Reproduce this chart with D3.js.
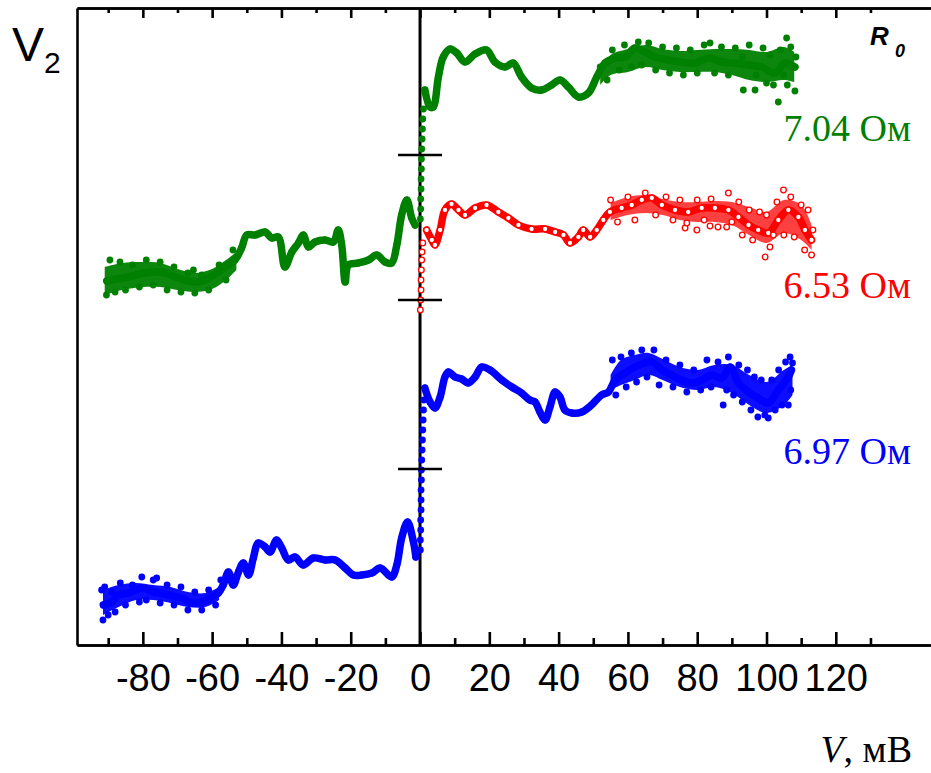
<!DOCTYPE html>
<html>

<head>
  <meta charset="utf-8">
  <title>V2(V)</title>
  <script src="https://cdnjs.cloudflare.com/ajax/libs/d3/7.8.5/d3.min.js"></script>
  <style>
    body {
      margin: 0;
      background: #fff;
    }
    text {
      font-family: "Liberation Sans", Arial, sans-serif;
    }
  </style>
</head>

<body>
  <script>
    // V (mV) , V2 (arb. units)
    var greenLeft = [[-90.4, 36.4], [-87.5, 36.6], [-84.2, 36.8], [-79.4, 37.2], [-74.6, 37.3], [-69.8, 36.7], [-64.9, 36.3],
      [-62, 36.5], [-59.2, 37.1], [-56.3, 37.8], [-53.4, 38.5], [-51.5, 39.7], [-50, 41.0], [-47.6, 41.0], [-44.7, 41.3],
      [-42.8, 40.7], [-40.9, 40.8], [-39, 37.8], [-37, 39.3], [-35.1, 40.2], [-33.7, 41.0], [-32.2, 39.8], [-30.3, 40.3],
      [-27.4, 40.5], [-25, 40.3], [-23.6, 41.5], [-22.6, 40.0], [-21.6, 36.3], [-20.7, 38.0], [-17.8, 38.2], [-14.9, 38.5],
      [-12.5, 39.0], [-10.1, 38.3], [-8.2, 38.2], [-6.7, 40.0], [-5.3, 43.0], [-3.8, 44.5], [-2.4, 42.7], [-1.4, 42.0]];
    var greenNoise = [[-90.5, 35.0], [-89.5, 38.5], [-88, 35.3], [-86.6, 38.3], [-85, 35.5], [-83, 38.0], [-81, 35.8],
      [-79, 38.5], [-77, 36.0], [-75, 38.3], [-73, 35.5], [-71, 37.8], [-69, 35.3], [-67, 37.2], [-65.4, 37.5], [-65, 35.2],
      [-63, 37.0], [-61, 35.5], [-58, 38.0], [-56, 36.5], [-54, 39.5],
      [52, 57.8], [54, 56.5], [55.5, 59.5], [57.5, 57.5], [59, 60.0], [61, 57.8], [63, 60.3], [64, 58.0], [66, 60.2],
      [68, 57.5], [70, 59.8], [72, 57.2], [74, 59.7], [76, 57.0], [78, 59.5], [80, 57.2], [82, 60.0], [83.7, 60.2],
      [85, 57.2], [87, 59.8], [89, 57.0], [91, 59.7], [93.3, 55.5], [93, 58.8], [95, 60.0], [96.7, 55.5], [97, 57.0],
      [99, 59.7], [100, 56.2], [101, 59.0], [102, 56.0], [103.4, 54.3], [104, 59.5], [105.8, 60.7], [106, 56.0],
      [107, 59.8], [108.2, 55.4], [108.5, 58.8], [105, 57.0]];
    var greenSpread = [
      [[-91, 35.0, 37.8], [-86, 35.5, 38.2], [-80, 35.8, 38.3], [-75, 35.8, 38.2], [-70, 35.5, 37.6], [-65, 35.3, 37.2],
        [-60, 35.6, 37.6], [-56, 36.5, 38.5], [-53, 37.5, 39.3]],
      [[52, 56.0, 57.5], [55, 57.0, 59.0], [60, 57.3, 59.6], [65, 57.8, 60.0], [70, 57.5, 59.6], [75, 57.3, 59.4],
        [80, 57.3, 59.5], [85, 57.3, 59.6], [90, 57.0, 59.6], [95, 56.5, 59.5], [100, 56.3, 59.3], [105, 56.5, 59.8],
        [108, 56.3, 59.3]]];
    var greenJump = [[0.1, 42.6], [0.2, 43.6], [0.2, 44.6], [0.3, 45.6], [0.3, 46.6], [0.4, 47.6], [0.4, 48.6],
      [0.5, 49.6], [0.6, 50.6], [0.7, 51.6], [0.8, 52.6], [1.0, 53.6]];
    var greenRight = [[1.4, 55.5], [2.9, 53.8], [3.8, 53.8], [5.3, 56.8], [6.7, 58.8], [8.7, 59.6], [10.6, 59.2],
      [13, 58.3], [15.9, 59.1], [19.2, 59.5], [21.6, 58.3], [24.5, 57.8], [26.9, 58.2], [29.3, 56.8], [32.2, 55.7],
      [35.1, 55.5], [38, 56.0], [40.4, 56.5], [42.8, 55.8], [45.7, 54.8], [48.6, 55.2], [51, 56.8], [53.4, 58.2],
      [56.3, 58.7], [59.2, 58.8], [62, 59.7], [64.9, 59.3], [67.8, 58.8], [71.7, 58.5], [75.5, 58.3], [79.4, 58.2],
      [83.2, 58.7], [87.1, 58.3], [90.9, 58.2], [94.8, 58.0], [98.6, 57.8], [102.5, 57.2], [105.3, 58.2], [108.2, 57.8]];

    var redJump = [[0.1, 33.5], [0.2, 34.5], [0.3, 35.5], [0.3, 36.5], [0.4, 37.5], [0.5, 38.5], [0.6, 39.3], [0.8, 40.2]];
    var redRight = [[1.9, 41.5], [3.4, 40.5], [4.3, 40.0], [5.8, 41.5], [7.2, 43.5], [9.1, 44.1], [11.1, 43.5], [13, 43.0],
      [15.9, 43.7], [19.2, 44.0], [22.6, 43.3], [25.5, 42.7], [28.4, 42.0], [32.2, 41.6], [36.1, 41.6], [39, 41.3],
      [41.4, 41.0], [43.3, 40.2], [45.7, 40.8], [47.1, 41.5], [49.1, 40.8], [51, 41.5], [52.9, 42.5], [54.8, 43.3],
      [58.2, 43.7], [61.1, 44.0], [64, 44.5], [66.9, 44.7], [69.8, 44.0], [73.6, 43.5], [77.4, 43.3], [81.3, 43.7],
      [85.1, 43.7], [89, 43.5], [91.9, 42.8], [94.8, 42.0], [97.6, 41.5], [100.5, 41.2], [103.4, 42.5], [106.3, 43.5],
      [109.2, 42.8], [111.1, 41.5], [113, 40.5]];
    var redNoise = [[55, 44.5], [57, 42.3], [60, 44.8], [62, 42.5], [65, 45.2], [68, 43.0], [71, 44.8], [73, 42.5],
      [75, 44.5], [76.5, 41.7], [77, 42.2], [79.9, 41.5], [80, 44.5], [82, 42.5], [83.7, 41.9], [84, 44.6], [86, 41.8],
      [88.5, 41.8], [89, 45.2], [90, 42.3], [92, 44.3], [93, 41.0], [95, 43.5], [96, 40.5], [98, 43.3], [99.6, 38.8],
      [100, 43.0], [101, 39.8], [102, 41.0], [103, 44.3], [104.9, 45.5], [105, 41.0], [107, 44.8], [108, 40.8],
      [110, 44.0], [111, 39.5], [112, 43.5], [113, 39.0], [113.4, 41.5]];
    var redSpread = [
      [[55, 42.5, 44.2], [60, 43.0, 44.8], [65, 43.2, 45.0], [70, 43.0, 44.6], [75, 42.5, 44.3], [80, 42.3, 44.3],
        [85, 42.3, 44.4], [90, 42.0, 44.3], [95, 41.0, 43.8], [100, 40.2, 43.3], [105, 41.2, 44.5], [110, 40.5, 44.0],
        [113, 39.5, 42.0]]];

    var blueLeft = [[-91.4, 4.0], [-89, 4.3], [-87.1, 5.0], [-84.2, 5.2], [-80.3, 5.7], [-76.5, 5.3], [-72.6, 5.0],
      [-68.8, 4.7], [-65.9, 4.2], [-63, 4.3], [-60.1, 4.8], [-58.2, 5.2], [-56.8, 6.0], [-55.3, 7.3], [-53.9, 6.0],
      [-52.4, 7.3], [-51, 8.2], [-49.5, 7.0], [-48.1, 8.7], [-46.7, 10.2], [-44.7, 9.8], [-43.3, 9.3], [-41.4, 10.5],
      [-39.9, 9.7], [-38, 8.5], [-36.1, 8.8], [-33.7, 8.0], [-30.8, 8.7], [-27.4, 8.5], [-24.5, 8.5], [-21.6, 7.7],
      [-19.2, 7.0], [-16.8, 7.0], [-13.9, 7.2], [-11.5, 7.7], [-8.2, 6.8], [-6.7, 8.0], [-5.3, 10.7], [-3.6, 12.3],
      [-1.9, 10.3], [-1.2, 8.8]];
    var blueNoise = [[-91.9, 5.5], [-91.5, 2.5], [-91, 5.8], [-90, 3.0], [-89, 5.3], [-88, 3.3], [-86.5, 6.2], [-85, 4.0],
      [-83, 6.0], [-81, 4.3], [-80.3, 6.8], [-79, 4.5], [-77, 6.5], [-76, 6.7], [-75, 4.2], [-73, 6.0], [-71, 4.0],
      [-69, 5.8], [-67, 3.5], [-65, 5.3], [-63, 3.5], [-61, 5.5], [-59, 4.0], [-57.5, 6.5],
      [55.5, 28.5], [56.5, 25.0], [58, 28.8], [59.5, 25.8], [61, 29.2], [62.5, 26.3], [64, 29.5], [65.5, 26.8],
      [67.5, 29.5], [69, 26.0], [71, 28.5], [73, 25.8], [75, 28.0], [77, 25.3], [79, 27.5], [81, 25.5], [82.8, 28.5],
      [84, 25.8], [86, 28.3], [87.5, 24.0], [88.5, 25.5], [89, 28.8], [90.5, 25.0], [92, 28.0], [93, 24.3], [94.5, 27.5],
      [95.5, 23.5], [96.5, 26.8], [97.5, 22.8], [98.5, 26.5], [99.5, 23.0], [100.5, 22.7], [101.5, 26.5], [102.5, 23.5],
      [103.5, 27.5], [104.5, 24.0], [105.5, 28.3], [106.3, 24.0], [106.8, 28.8], [107, 25.5], [107.5, 28.2]];
    var blueSpread = [
      [[-91.5, 3.0, 5.5], [-87, 3.8, 6.0], [-82, 4.5, 6.2], [-77, 4.5, 6.0], [-72, 4.2, 5.8], [-67, 3.8, 5.3],
        [-62, 3.8, 5.2], [-58, 4.5, 5.8]],
      [[55, 25.5, 27.0], [58, 26.0, 28.5], [62, 26.5, 29.0], [66, 27.0, 29.2], [70, 26.5, 28.6], [75, 25.8, 27.8],
        [80, 25.5, 27.5], [85, 25.8, 28.0], [90, 25.2, 28.0], [95, 24.0, 27.0], [100, 23.2, 26.3], [105, 24.0, 27.5],
        [107.5, 25.0, 28.0]]];
    var blueJump = [[0.1, 9.5], [0.1, 10.5], [0.2, 11.5], [0.2, 12.5], [0.3, 13.5], [0.3, 14.5], [0.3, 15.5], [0.4, 16.5],
      [0.4, 17.5], [0.5, 18.5], [0.6, 19.5], [0.7, 20.5], [0.8, 21.5], [0.9, 22.5], [1.0, 23.5], [1.1, 24.5]];
    var blueRight = [[1.4, 25.7], [2.9, 24.3], [4.3, 23.7], [5.8, 24.8], [7.2, 26.8], [8.2, 27.3], [10.1, 26.8],
      [12, 26.6], [13.9, 26.2], [15.9, 26.8], [17.8, 27.8], [20.2, 27.5], [23.6, 26.5], [26.5, 25.8], [29.3, 25.2],
      [31.7, 24.5], [33.2, 24.3], [34.6, 23.3], [36.1, 22.5], [37.5, 23.8], [39, 25.3], [40.4, 24.8], [41.8, 23.5],
      [43.8, 23.2], [46.7, 23.3], [49.5, 24.0], [52.4, 25.0], [54.4, 25.3], [56.3, 26.5], [59.2, 27.2], [62, 27.8],
      [64.9, 28.2], [66.9, 28.3], [69.8, 27.5], [72.6, 27.0], [75.5, 26.5], [78.4, 26.2], [81.3, 26.5], [84.2, 27.0],
      [87.1, 26.7], [89.5, 27.8], [91.9, 26.2], [94.8, 25.3], [97.6, 24.7], [100.5, 24.2], [103.4, 25.5], [106.3, 26.8],
      [107.2, 27.5]];

    var majorTicks = [-80, -60, -40, -20, 0, 20, 40, 60, 80, 100, 120];
    var minorTicks = [-90, -70, -50, -30, -10, 10, 30, 50, 70, 90, 110, 130];
    var zeroMarks = [49.0, 34.5, 17.6];
    var r0Labels = ["7.04 Ом", "6.53 Ом", "6.97 Ом"];
    var r0LabelY = [141, 298, 464];

    var W = 931, H = 773;
    var svg = d3.select("body").append("svg").attr("width", W).attr("height", H);

    var x = d3.scaleLinear().domain([-99, 147.3]).range([77, 930.4]);
    var y = d3.scaleLinear().domain([0, 63.7]).range([645, 8]);

    // ---- axes
    var gB = svg.append("g").attr("transform", "translate(0,645)");
    gB.call(d3.axisBottom(x).tickValues(majorTicks).tickSize(-13).tickSizeOuter(0).tickPadding(19)
      .tickFormat(d3.format("d")));
    svg.append("g").attr("transform", "translate(0,645)")
      .call(d3.axisBottom(x).tickValues(minorTicks).tickSize(-7).tickSizeOuter(0).tickFormat(""));
    svg.append("g").attr("transform", "translate(0,8)")
      .call(d3.axisTop(x).tickValues(majorTicks).tickSize(-10).tickSizeOuter(0).tickFormat(""));
    svg.append("g").attr("transform", "translate(0,8)")
      .call(d3.axisTop(x).tickValues(minorTicks).tickSize(-5).tickSizeOuter(0).tickFormat(""));
    svg.append("g").attr("transform", "translate(77,0)")
      .call(d3.axisLeft(y).tickValues([]).tickSizeOuter(0));

    svg.selectAll(".domain, .tick line").attr("stroke", "#000").attr("stroke-width", 2.6);
    gB.selectAll(".tick text").attr("font-size", 38).attr("fill", "#000")
      .attr("font-family", "'Liberation Sans', Arial, sans-serif")
      .text(function (d) { return d; });

    // zero line
    svg.append("line").attr("x1", x(0)).attr("x2", x(0)).attr("y1", 8).attr("y2", 645)
      .attr("stroke", "#000").attr("stroke-width", 3);

    // ---- data
    var line = d3.line().x(function (d) { return x(d[0]); }).y(function (d) { return y(d[1]); })
      .curve(d3.curveCatmullRom);
    var area = d3.area().x(function (d) { return x(d[0]); })
      .y0(function (d) { return y(d[1]); }).y1(function (d) { return y(d[2]); })
      .curve(d3.curveCatmullRom);

    function band(data, color) {
      svg.append("path").datum(data).attr("d", line).attr("fill", "none")
        .attr("stroke", color).attr("stroke-width", 7.5).attr("stroke-linejoin", "round").attr("stroke-linecap", "round");
    }

    function spread(list, color, op) {
      svg.append("g").selectAll("path").data(list).enter().append("path")
        .attr("d", area).attr("fill", color).attr("fill-opacity", op);
    }

    function dots(data, color, open) {
      svg.append("g").selectAll("circle").data(data).enter().append("circle")
        .attr("cx", function (d) { return x(d[0]); })
        .attr("cy", function (d) { return y(d[1]); })
        .attr("r", open ? 2.8 : 3.4)
        .attr("fill", open ? "#fff" : color)
        .attr("stroke", open ? color : "none")
        .attr("stroke-width", 1.3);
    }

    var GREEN = "#008000", RED = "#ff0000", BLUE = "#0000ff";

    spread(greenSpread, GREEN, 0.95);
    band(greenLeft, GREEN); band(greenRight, GREEN);
    dots(greenLeft, GREEN); dots(greenRight, GREEN); dots(greenNoise, GREEN); dots(greenJump, GREEN);

    spread(redSpread, RED, 0.75);
    band(redRight, RED);
    dots(redRight, RED, true); dots(redNoise, RED, true); dots(redJump, RED, true);

    spread(blueSpread, BLUE, 0.95);
    band(blueLeft, BLUE); band(blueRight, BLUE);
    dots(blueLeft, BLUE); dots(blueRight, BLUE); dots(blueNoise, BLUE); dots(blueJump, BLUE);

    // level marks on the zero line
    svg.selectAll("line.mark").data(zeroMarks).enter().append("line").attr("class", "mark")
      .attr("x1", x(0) - 22).attr("x2", x(0) + 22)
      .attr("y1", function (d) { return y(d); }).attr("y2", function (d) { return y(d); })
      .attr("stroke", "#000").attr("stroke-width", 2.6);

    // ---- labels
    var colors = [GREEN, RED, BLUE];
    svg.selectAll("text.r0").data(r0Labels).enter().append("text").attr("class", "r0")
      .attr("x", 911).attr("y", function (d, i) { return r0LabelY[i]; })
      .attr("text-anchor", "end").attr("font-size", 38)
      .style("font-family", "'Liberation Serif', 'DejaVu Serif', serif")
      .attr("fill", function (d, i) { return colors[i]; }).text(function (d) { return d; });

    svg.append("text").attr("x", 12).attr("y", 61).attr("font-size", 48).text("V");
    svg.append("text").attr("x", 44).attr("y", 73).attr("font-size", 30).text("2");

    svg.append("text").attr("x", 870).attr("y", 45).attr("font-size", 26).attr("font-weight", "bold")
      .attr("font-style", "italic").text("R");
    svg.append("text").attr("x", 895).attr("y", 57).attr("font-size", 18).attr("font-weight", "bold")
      .attr("font-style", "italic").text("0");

    var xl = svg.append("text").attr("x", 912).attr("y", 762).attr("text-anchor", "end").attr("font-size", 38)
      .style("font-family", "'Liberation Serif', 'DejaVu Serif', serif");
    xl.append("tspan").attr("font-style", "italic").text("V");
    xl.append("tspan").text(", мВ");
  </script>
</body>

</html>
